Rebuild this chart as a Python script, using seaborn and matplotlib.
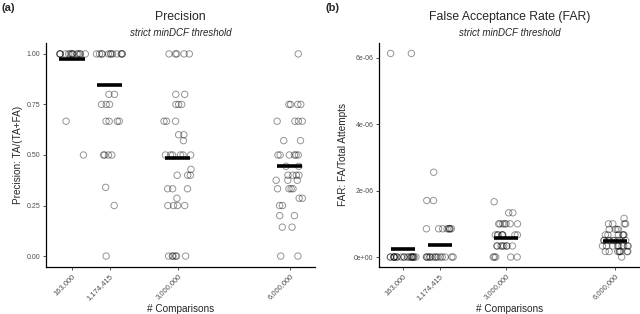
import numpy as np
import pandas as pd
import matplotlib
matplotlib.use('Agg')
import matplotlib.pyplot as plt
import seaborn as sns

# number of comparisons per condition (x axis is numeric)
comparisons = [163000, 1174415, 3000000, 6000000]
comparison_labels = ['163,000', '1,174,415', '3,000,000', '6,000,000']

# precision per run
precision_163k = [1.0] * 14 + [0.667, 0.5]
precision_1174k = [1.0] * 12 + [0.8, 0.8, 0.75, 0.75, 0.75, 0.667, 0.667, 0.667, 0.667,
                                0.5, 0.5, 0.5, 0.5, 0.34, 0.25, 0.0]
precision_3m = ([1.0] * 5 + [0.8] * 2 + [0.75] * 3 + [0.667] * 3 + [0.6, 0.6, 0.571] + [0.5] * 6
                + [0.429] + [0.4] * 3 + [0.333] * 3 + [0.286] + [0.25] * 4 + [0.0] * 6)
precision_6m = ([1.0] + [0.75] * 4 + [0.667] * 4 + [0.571] * 2 + [0.5] * 6 + [0.444] * 2 + [0.4] * 4
                + [0.375] * 3 + [0.333] * 4 + [0.286] * 2 + [0.25] * 2 + [0.2] * 2 + [0.143] * 2 + [0.0] * 2)
precision_means = [0.975, 0.845, 0.487, 0.444]

# false acceptances per run (FAR = FA / comparisons)
fa_163k = [0] * 20 + [1] * 2
fa_1174k = [0] * 14 + [1] * 8 + [2] * 2 + [3]
fa_3m = [0] * 5 + [1] * 8 + [2] * 8 + [3] * 7 + [4] * 2 + [5]
fa_6m = [0] + [1] * 8 + [2] * 9 + [3] * 9 + [4] * 6 + [5] * 4 + [6] * 4 + [7]
far_means = [2.4e-7, 3.7e-7, 5.6e-7, 4.7e-7]

precision_ticks = [0.0, 0.25, 0.5, 0.75, 1.0]
far_ticks = [0.0, 2e-6, 4e-6, 6e-6]
far_tick_labels = ['0e+00', '2e-06', '4e-06', '6e-06']

prec_df = pd.DataFrame({
    'comparisons': np.repeat(comparisons, [len(precision_163k), len(precision_1174k),
                                           len(precision_3m), len(precision_6m)]),
    'value': precision_163k + precision_1174k + precision_3m + precision_6m})
fa_all = [fa_163k, fa_1174k, fa_3m, fa_6m]
far_df = pd.DataFrame({
    'comparisons': np.repeat(comparisons, [len(f) for f in fa_all]),
    'value': np.concatenate([np.array(f) / n for f, n in zip(fa_all, comparisons)])})

sns.set_style('ticks')
plt.rcParams['font.family'] = ['Liberation Sans', 'DejaVu Sans']
np.random.seed(7)

fig = plt.figure(figsize=(6.4, 3.14), dpi=100)
ax1 = fig.add_axes([0.0719, 0.1497, 0.4203, 0.7134])
ax2 = fig.add_axes([0.5922, 0.1497, 0.4078, 0.7134])


def panel(ax, df, means, title, ylabel, ylim, xlim, yticks, yticklabels, letter, ylab_x):
    sns.stripplot(data=df, x='comparisons', y='value', native_scale=True, orient='x',
                  jitter=0.37, ax=ax, color='black', marker='o', facecolors='none',
                  edgecolor='black', linewidth=0.7, alpha=0.42, size=4.6)
    ax.hlines(means, np.array(comparisons) - 335000, np.array(comparisons) + 335000,
              color='black', linewidth=2.6, zorder=4)
    ax.set_xlim(*xlim)
    ax.set_ylim(*ylim)
    ax.set_xticks(comparisons)
    ax.set_xticklabels(comparison_labels, rotation=45, ha='right', rotation_mode='anchor')
    ax.set_yticks(yticks)
    ax.set_yticklabels(yticklabels)
    ax.tick_params(axis='both', labelsize=5, labelcolor='#4D4D4D', color='#333333',
                   length=2.5, width=0.6, pad=1.5)
    ax.tick_params(axis='x', labelsize=5.5)
    for s in ['top', 'right']:
        ax.spines[s].set_visible(False)
    for s in ['left', 'bottom']:
        ax.spines[s].set_linewidth(0.9)
        ax.spines[s].set_color('black')
    ax.set_xlabel('# Comparisons', fontsize=7.2)
    ax.xaxis.set_label_coords(0.5, -0.165)
    ax.set_ylabel(ylabel, fontsize=7.2)
    ax.yaxis.set_label_coords(ylab_x, 0.5)
    ax.text(0.5, 1.116, title, transform=ax.transAxes, ha='center', va='center', fontsize=8.8)
    ax.text(0.5, 1.045, 'strict minDCF threshold', transform=ax.transAxes, ha='center',
            va='center', fontsize=7, style='italic')
    return ax


panel(ax1, prec_df, precision_means, 'Precision', 'Precision: TA/(TA+FA)',
      (-0.054, 1.054), (-533000, 6670000), precision_ticks,
      ['%.2f' % t for t in precision_ticks], '(a)', -0.0855)
panel(ax2, far_df, far_means, 'False Acceptance Rate (FAR)', 'FAR: FA/Total Attempts',
      (-0.30e-6, 6.45e-6), (-498000, 6690000), far_ticks, far_tick_labels, '(b)', -0.119)

fig.text(0.003, 0.975, '(a)', fontsize=8, fontweight='bold', va='center', ha='left')
fig.text(0.509, 0.975, '(b)', fontsize=8, fontweight='bold', va='center', ha='left')

fig.savefig('out.png', dpi=100, facecolor='white')
